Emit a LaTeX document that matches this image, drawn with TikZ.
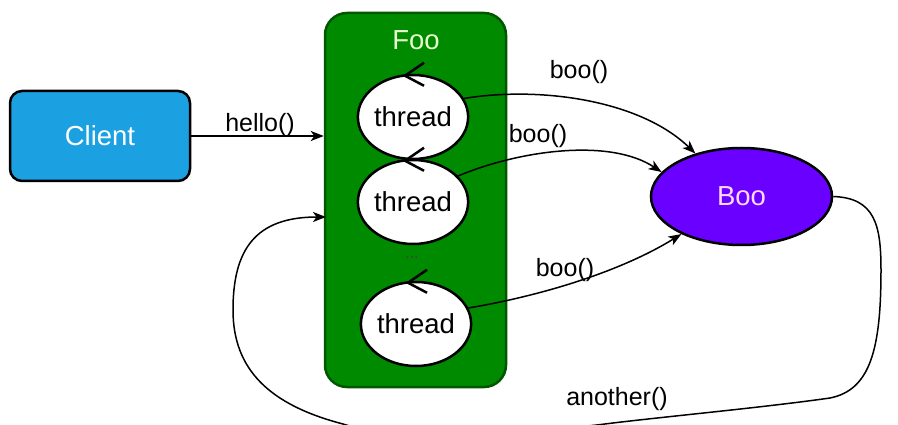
\documentclass[tikz,border=0pt]{standalone}
\usepackage{fontspec}
\setmainfont{Liberation Sans}
\usetikzlibrary{shapes.geometric,arrows.meta}
\definecolor{clientfill}{HTML}{1BA1E2}
\definecolor{foofill}{HTML}{008A00}
\definecolor{foostroke}{HTML}{005700}
\definecolor{footext}{HTML}{E6FFCC}
\definecolor{boofill}{HTML}{6A00FF}
\definecolor{bootext}{HTML}{FFD9FF}
\tikzset{
  bigtext/.style={font=\fontsize{27.5}{31}\selectfont},
  lbl/.style={font=\fontsize{25}{28}\selectfont, inner sep=0pt},
  clientbox/.style={draw=black, line width=2.5pt, fill=clientfill, rounded corners=12pt,
    minimum width=180pt, minimum height=90pt, text=white, bigtext},
  foobox/.style={draw=foostroke, line width=2.5pt, fill=foofill, rounded corners=22pt,
    minimum width=181pt, minimum height=374pt},
  threadnode/.style={ellipse, draw=black, line width=2.5pt, fill=white,
    minimum width=93pt, minimum height=84pt, inner sep=0pt, bigtext},
  boonode/.style={ellipse, draw=black, line width=2.5pt, fill=boofill,
    minimum width=181pt, minimum height=97pt, text=bootext, bigtext},
  conn/.style={line width=1.5pt, -{Stealth[length=13pt,width=10pt,inset=3.5pt]}},
  rotmark/.style={line width=2.5pt, line join=miter}
}
\begin{document}
\begin{tikzpicture}[x=1pt,y=-1pt]
\useasboundingbox (0,0) rectangle (898,425);
\begin{scope}
\clip (0,0) rectangle (898,425);
\fill[white] (0,0) rectangle (898,425);

\node[clientbox] (client) at (100,136) {Client};
\node[foobox] (foo) at (415.5,200) {};
\node[text=footext, bigtext] (footitle) at (416,40) {Foo};

\node[threadnode] (t1) at (413,117) {thread};
\node[threadnode] (t2) at (413,202) {thread};
\node[font=\fontsize{16}{18}\selectfont, text=black!75] (dots) at (412,258) {...};
\node[threadnode] (t3) at (416,324) {thread};

\foreach \t in {t1,t2,t3}{
  \draw[rotmark] ([shift={(11,-11)}]\t.north) -- ([shift={(-8,2)}]\t.north) -- ([shift={(11,12)}]\t.north);
}

\node[boonode] (boo) at (741.5,196.5) {Boo};

% hello
\draw[conn] (client.east) -- (client.east -| foo.west);
\node[lbl] (lhello) at (260,125) {hello()};

% boo calls
\draw[conn] (t1.20) .. controls (540,86) and (640,100) .. (boo.137);
\node[lbl] (lboo1) at (579,72) {boo()};
\draw[conn] (t2.30) .. controls (520,150) and (610,138) .. (boo.163);
\node[lbl] (lboo2) at (538,136) {boo()};
\draw[conn] (t3.17) .. controls (540,296) and (620,272) .. (boo.212);
\node[lbl] (lboo3) at (565,270) {boo()};

% another
\coordinate (fooin) at (326,217);
\draw[conn] (boo.east) .. controls (875,198) and (881,225) .. (881,270)
  .. controls (881,350) and (870,390) .. (830,398)
  .. controls (760,408) and (650,418) .. (597,425)
  .. controls (540,431) and (400,443) .. (343,424)
  .. controls (270,405) and (233,370) .. (233,310)
  .. controls (233,250) and (255,217) .. (fooin);
\node[lbl] (lanother) at (617,399) {another()};
\end{scope}
\end{tikzpicture}
\end{document}
